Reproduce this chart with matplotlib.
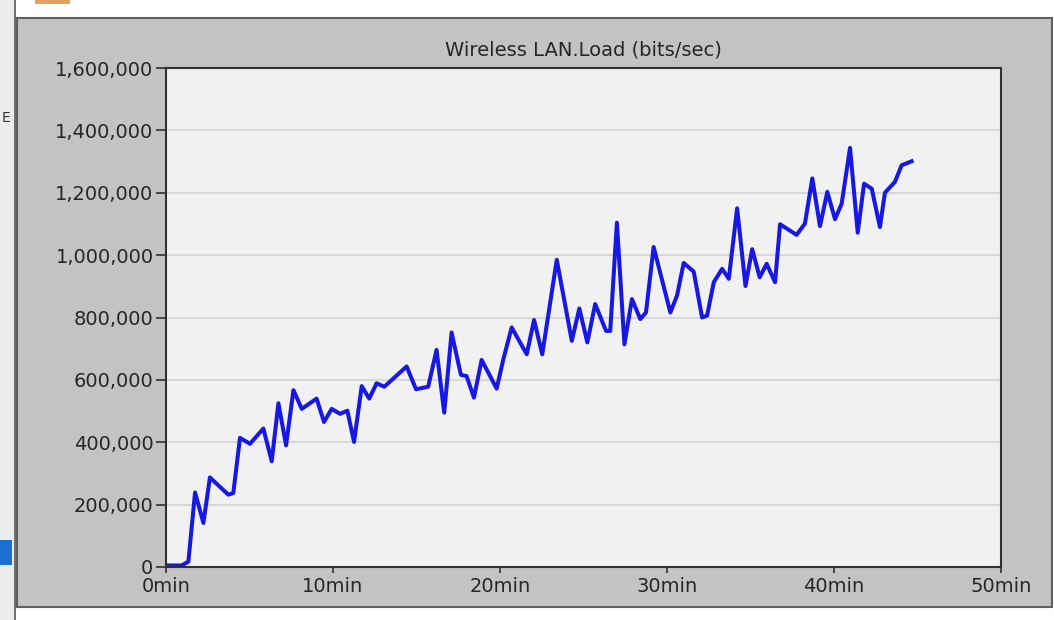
import matplotlib
matplotlib.use("Agg")
import matplotlib.pyplot as plt
from matplotlib.patches import Rectangle
from matplotlib.ticker import FuncFormatter, MultipleLocator

# Temps (min) et charge (bits/sec)
minutes = [0.0, 0.94, 1.34, 1.74, 2.24, 2.63, 3.73, 4.03, 4.43, 5.03,
           5.83, 6.33, 6.73, 7.19, 7.63, 8.13, 9.02, 9.46, 9.92, 10.42,
           10.86, 11.26, 11.72, 12.17, 12.61, 13.07, 14.41, 14.97, 15.7, 16.2,
           16.66, 17.1, 17.66, 18.0, 18.44, 18.9, 19.8, 20.2, 20.7, 21.6,
           22.04, 22.53, 23.4, 24.3, 24.75, 25.23, 25.7, 26.35, 26.6, 27.0,
           27.45, 27.9, 28.4, 28.74, 29.2, 30.2, 30.6, 31.0, 31.6, 32.1,
           32.4, 32.8, 33.3, 33.7, 34.2, 34.7, 35.1, 35.55, 35.97, 36.47,
           36.77, 37.76, 38.26, 38.7, 39.16, 39.6, 40.06, 40.46, 40.96, 41.42,
           41.8, 42.26, 42.75, 43.05, 43.65, 44.05, 44.65]
load_k = [5, 5, 17, 239, 141, 287, 232, 237, 414, 395,
          444, 339, 525, 390, 567, 507, 540, 465, 507, 491,
          501, 401, 580, 540, 589, 578, 643, 570, 578, 696,
          495, 752, 616, 612, 543, 664, 572, 666, 768, 682,
          792, 682, 985, 725, 829, 720, 843, 757, 757, 1104,
          714, 859, 795, 816, 1026, 816, 870, 975, 947, 800,
          806, 913, 956, 924, 1150, 901, 1019, 929, 972, 913,
          1099, 1065, 1101, 1246, 1093, 1203, 1115, 1165, 1344, 1072,
          1229, 1213, 1090, 1200, 1235, 1288, 1301]
load = [v * 1000 for v in load_k]

W, H = 1054, 620
fig = plt.figure(figsize=(W / 100, H / 100), dpi=100)
fig.patch.set_facecolor("white")

# Cadre gris de la fenêtre (capture d'écran)
fig.add_artist(Rectangle((0, 0), 14 / W, 1, transform=fig.transFigure,
                         facecolor="#ececec", edgecolor="none", zorder=0))
fig.add_artist(Rectangle((14 / W, 0), 2 / W, 1, transform=fig.transFigure,
                         facecolor="#707070", edgecolor="none", zorder=0))
fig.add_artist(Rectangle((17 / W, 1 - 607 / H), 1035 / W, 589 / H,
                         transform=fig.transFigure, facecolor="#c3c3c3",
                         edgecolor="#606060", linewidth=1.5, zorder=0))
fig.add_artist(Rectangle((0, 1 - 565 / H), 12 / W, 25 / H, transform=fig.transFigure,
                         facecolor="#1a6fd0", edgecolor="none", zorder=0))
fig.add_artist(Rectangle((35 / W, 1 - 4 / H), 35 / W, 4 / H, transform=fig.transFigure,
                         facecolor="#e0a060", edgecolor="none", zorder=0))
fig.text(2 / W, 1 - 118 / H, "E", fontsize=10, color="#333333", va="center")

ax = fig.add_axes([166 / W, 1 - 567 / H, 835 / W, 499 / H])
ax.set_facecolor("#f1f1f1")
ax.plot(minutes, load, color="#1818e4", linewidth=2.9, solid_joinstyle="round")

ax.set_xlim(0, 50)
ax.set_ylim(0, 1600000)
ax.xaxis.set_major_locator(MultipleLocator(10))
ax.yaxis.set_major_locator(MultipleLocator(200000))
ax.xaxis.set_major_formatter(FuncFormatter(lambda x, p: f"{int(x)}min"))
ax.yaxis.set_major_formatter(FuncFormatter(lambda y, p: f"{int(y):,}"))
ax.grid(axis="y", color="#d2d2d2", linewidth=1.2)
ax.set_axisbelow(True)

for s in ax.spines.values():
    s.set_color("#303030")
    s.set_linewidth(1.5)
ax.tick_params(axis="both", direction="out", color="#303030", labelcolor="#262626",
               labelsize=14)
ax.tick_params(axis="y", length=7, width=1.2, pad=2)
ax.tick_params(axis="x", length=4, width=1.2, pad=3)

fig.text(583.5 / W, 1 - 50 / H, "Wireless LAN.Load (bits/sec)", ha="center",
         va="center", fontsize=14, color="#262626")

fig.savefig("out.png", dpi=100)
